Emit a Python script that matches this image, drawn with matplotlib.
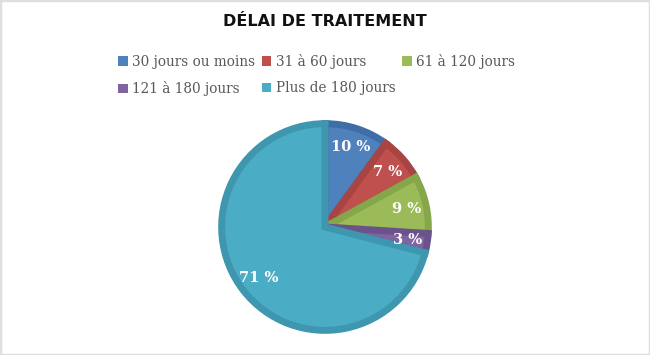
import matplotlib
matplotlib.use('Agg')
import matplotlib.pyplot as plt
from matplotlib.patches import Rectangle

# données
categories = ['30 jours ou moins', '31 à 60 jours', '61 à 120 jours',
              '121 à 180 jours', 'Plus de 180 jours']
valeurs = [10, 7, 9, 3, 71]
couleurs = ['#4F81BD', '#C0504D', '#9BBB59', '#8064A2', '#4BACC6']
bordures = ['#3F6EA6', '#A84441', '#86A64A', '#6A528A', '#3E97AE']

fig = plt.figure(figsize=(6.5, 3.55), dpi=100)
fig.patches.append(Rectangle((0, 0), 1, 1, transform=fig.transFigure,
                             fill=False, edgecolor='#dedede', linewidth=2.5))

# pie: centre ~ (325, 227) px, rayon ~106 px
cx, cy, r = 325 / 650, 1 - 227 / 355, 106
ax = fig.add_axes([cx - r / 650, cy - r / 355, 2 * r / 650, 2 * r / 355])
wedges, textes = ax.pie(valeurs, colors=couleurs, startangle=90, counterclock=False,
                        radius=0.975, labels=[f'{v} %' for v in valeurs],
                        labeldistance=0.81,
                        wedgeprops=dict(linewidth=5, joinstyle='miter'),
                        textprops=dict(color='white', fontweight='bold',
                                       fontsize=10.5, family='DejaVu Serif',
                                       ha='center', va='center'))
for w, b in zip(wedges, bordures):
    w.set_edgecolor(b)
ax.set_xlim(-1, 1)
ax.set_ylim(-1, 1)
ax.set_aspect('equal')
ax.axis('off')

fig.text(0.5, 1 - 22 / 355, 'DÉLAI DE TRAITEMENT', ha='center', va='center',
         fontsize=11.5, fontweight='bold', family='DejaVu Sans', color='#111111')

# légende (ordre ligne par ligne sur 3 colonnes)
handles = [Rectangle((0, 0), 1, 1, facecolor=c, edgecolor='none') for c in couleurs]
ordre = [0, 3, 1, 4, 2]
fig.legend([handles[i] for i in ordre], [categories[i] for i in ordre],
           loc='center', bbox_to_anchor=(0.487, 1 - 75 / 355),
           ncol=3, frameon=False, handlelength=0.7, handleheight=0.7,
           handletextpad=0.3, columnspacing=0.5, labelspacing=0.95,
           prop=dict(family='DejaVu Serif', size=9.8), labelcolor='#595959')

fig.savefig('out.png', dpi=100)
